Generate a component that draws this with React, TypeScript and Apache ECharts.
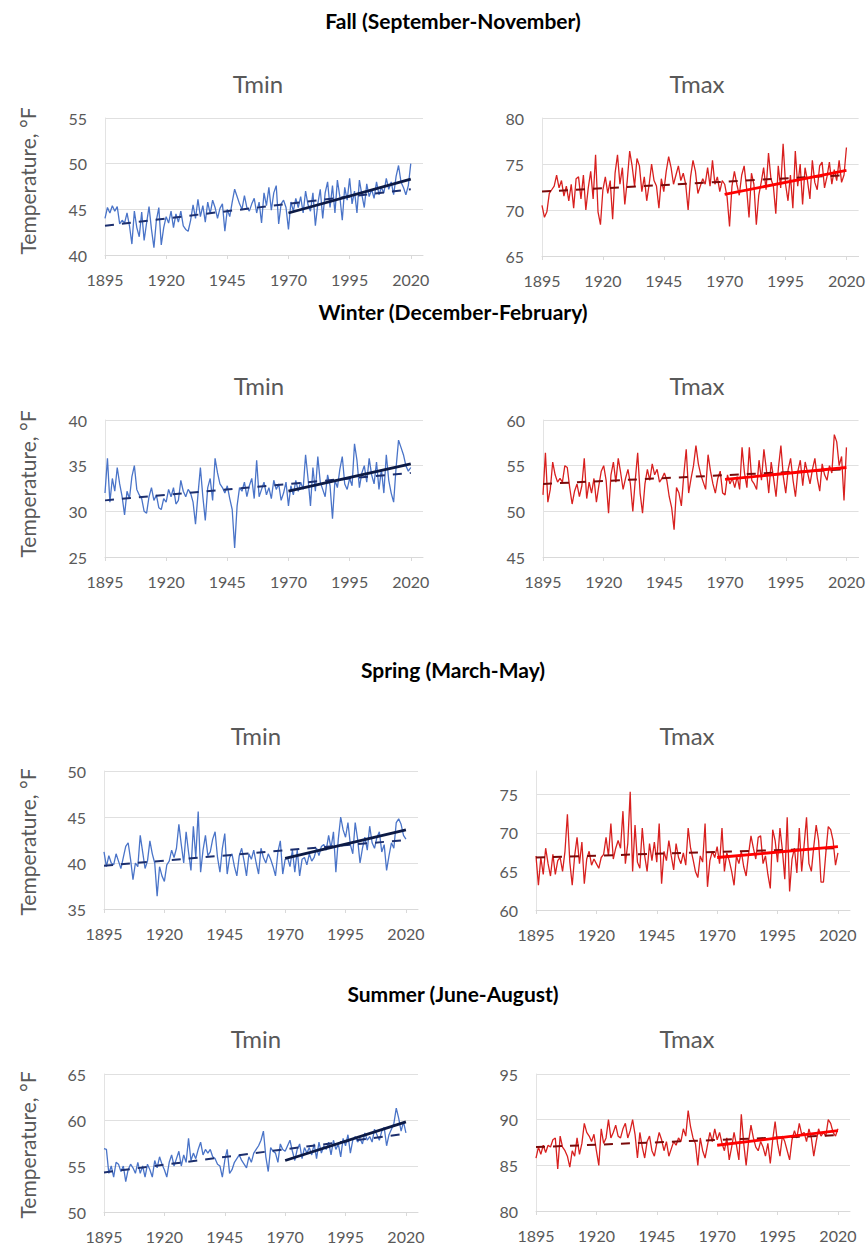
import React, { useEffect, useRef } from "react";
import * as echarts from "echarts";

const years: number[] = Array.from({ length: 126 }, (_, i) => 1895 + i);
const xTicks = [1895, 1920, 1945, 1970, 1995, 2020];

const sectionTitles = ["Fall (September-November)", "Winter (December-February)", "Spring (March-May)", "Summer (June-August)"];
const panelTitles = ["Tmin", "Tmax"];
const yAxisTitle = "Temperature, °F";

// ---- Fall ----
const fallTmin = [
  44.0, 45.2, 44.6, 45.4, 44.8, 45.3, 43.4, 43.8, 43.5, 44.6,
  43.2, 41.2, 44.8, 43.0, 42.0, 44.7, 41.6, 43.5, 45.3, 42.8,
  40.8, 43.8, 45.2, 41.1, 43.0, 44.2, 43.5, 44.8, 43.0, 44.5,
  43.6, 44.8, 43.2, 42.8, 42.6, 43.8, 45.5, 44.0, 46.1, 44.2,
  45.4, 43.6, 45.8, 44.5, 46.0, 45.2, 44.0, 45.1, 45.6, 42.6,
  45.0, 44.2, 45.8, 47.2, 46.4, 45.6, 45.0, 46.5, 45.2, 44.8,
  45.6, 46.2, 44.6, 45.8, 43.5, 46.8, 45.4, 47.4, 44.9, 46.8,
  47.6, 43.4, 45.6, 46.0, 45.2, 42.8, 45.8, 44.8, 46.2, 45.2,
  46.4, 44.6, 47.0, 45.5, 44.8, 46.8, 43.2, 45.6, 47.2, 44.0,
  46.8, 48.0, 45.2, 47.6, 44.6, 48.2, 46.4, 43.8, 47.4, 46.0,
  48.4, 45.6, 47.0, 44.6, 48.2, 46.6, 45.2, 47.8, 46.4, 47.2,
  46.2, 48.0, 46.6, 47.4, 46.8, 48.4, 47.2, 48.0, 46.6, 48.6,
  49.8, 48.0, 47.4, 46.6, 47.6, 50.0,
];
const fallTmax = [
  70.5, 69.2, 69.8, 71.8, 72.2, 72.6, 73.8, 72.4, 73.2, 71.5,
  72.6, 71.0, 72.8, 70.2, 73.4, 73.6, 71.2, 73.8, 70.0, 72.4,
  74.2, 71.2, 76.0, 69.8, 68.4, 72.2, 73.6, 71.8, 73.2, 69.0,
  74.0, 76.0, 72.8, 74.6, 70.6, 73.2, 76.4, 74.8, 72.6, 75.6,
  74.8, 72.0, 73.6, 71.0, 72.8, 75.0, 73.2, 72.6, 70.2, 73.4,
  72.0, 74.2, 75.8, 74.6, 72.8, 73.8, 74.8, 73.2, 74.0, 72.8,
  70.0, 73.6, 75.4, 74.2, 71.8, 72.6, 73.4, 72.8, 74.6, 72.6,
  75.4, 72.8, 73.6, 72.0, 73.2, 72.8, 71.4, 68.2, 72.6, 74.2,
  72.8, 71.6, 73.8, 74.8, 72.4, 69.2, 74.0, 72.8, 68.4, 71.6,
  73.0, 74.6, 72.2, 76.2, 73.4, 72.6, 69.6, 74.8, 72.4, 77.2,
  72.8, 71.0, 73.8, 70.2, 76.4, 72.6, 75.0, 70.6, 74.6, 73.2,
  71.2, 75.4, 73.0, 72.2, 74.8, 75.2, 72.4, 73.6, 75.2, 72.8,
  74.4, 73.2, 75.4, 73.0, 73.8, 76.8,
];
// ---- Winter ----
const winterTmin = [
  32.0, 35.8, 31.0, 33.6, 32.2, 34.8, 33.0, 31.6, 29.6, 32.2,
  31.4, 33.8, 35.0, 32.4, 31.8, 31.4, 30.0, 29.8, 31.6, 32.6,
  31.2, 31.8, 30.4, 30.2, 31.4, 31.0, 32.4, 31.6, 32.6, 30.8,
  31.2, 33.4, 32.2, 31.6, 32.4, 32.0, 31.0, 28.6, 31.8, 34.8,
  31.6, 29.0, 32.6, 33.6, 31.2, 35.8, 34.2, 33.0, 32.6, 32.0,
  32.8, 31.4, 30.2, 26.0, 30.6, 32.6, 32.2, 33.2, 31.6, 32.8,
  33.6, 31.4, 35.6, 31.6, 32.4, 33.2, 31.8, 32.6, 31.4, 33.4,
  32.4, 33.0, 31.2, 32.0, 33.2, 30.6, 32.8, 31.8, 33.4, 32.2,
  33.2, 32.4, 36.2, 33.6, 30.6, 34.8, 32.2, 36.0, 33.2, 32.4,
  31.6, 34.0, 32.8, 29.2, 33.4, 32.6, 34.6, 36.0, 33.0, 32.4,
  33.6, 32.8, 37.4, 35.6, 32.6, 34.2, 35.0, 33.2, 35.8, 34.0,
  33.0, 35.4, 32.4, 34.6, 32.0, 36.2, 33.4, 32.0, 31.0, 34.8,
  37.8, 37.0, 36.2, 35.0, 34.4, 34.8,
];
const winterTmax = [
  51.8, 56.4, 51.0, 52.4, 55.4, 54.0, 53.2, 53.6, 53.2, 55.0,
  54.8, 52.6, 50.8, 52.2, 53.0, 51.6, 52.8, 55.8, 51.4, 53.2,
  52.0, 53.6, 51.0, 52.8, 54.4, 55.0, 53.4, 49.8, 54.0, 55.4,
  53.2, 55.8, 54.2, 52.4, 53.6, 54.6, 53.0, 50.0, 53.4, 56.4,
  52.0, 49.8, 53.0, 54.6, 53.4, 55.2, 54.0, 54.6, 53.2, 53.6,
  54.2, 53.4, 51.6, 50.4, 48.0, 52.6, 52.0, 50.6, 54.0, 56.8,
  52.0, 53.6, 55.0, 57.2, 55.2, 54.0, 53.2, 52.4, 56.2, 54.4,
  53.0, 52.0, 53.6, 54.4, 52.0, 51.8, 54.0, 53.0, 53.6, 52.6,
  53.8, 52.4, 57.0, 54.2, 52.6, 57.0, 53.4, 53.0, 52.4, 55.6,
  53.4, 56.8, 54.6, 52.0, 55.4, 53.6, 51.6, 54.8, 57.2, 53.8,
  52.0, 54.6, 55.8, 53.4, 51.6, 54.4, 55.6, 52.8, 55.4, 54.2,
  53.0, 54.6, 55.8, 53.6, 52.2, 55.2, 54.0, 53.4, 55.0, 54.2,
  58.4, 57.6, 55.0, 56.0, 51.2, 57.0,
];
// ---- Spring ----
const springTmin = [
  41.2, 39.6, 40.8, 40.0, 39.8, 41.0, 40.2, 39.4, 40.6, 41.8,
  42.2, 40.4, 38.2, 40.0, 39.6, 43.0, 41.2, 39.4, 40.2, 42.4,
  41.0, 40.0, 36.4, 39.6, 38.6, 38.0, 39.8, 40.2, 41.4, 40.6,
  41.6, 44.2, 42.0, 40.0, 43.4, 41.2, 39.2, 44.0, 40.6, 45.6,
  39.0, 41.4, 43.0, 40.8, 41.2, 42.6, 43.4, 40.6, 39.0, 41.6,
  43.2, 38.8, 40.6, 41.0, 39.6, 38.6, 40.8, 41.6, 40.2, 38.6,
  41.0, 40.4, 41.4, 40.0, 38.8, 41.6, 40.6, 40.0, 41.0, 40.4,
  39.6, 38.6, 41.2, 42.4, 38.8, 40.4, 40.6, 39.6, 41.4, 39.0,
  41.4, 38.6, 40.4, 40.6, 39.8, 41.0, 40.2, 40.6, 41.6, 40.8,
  41.8, 42.0, 41.4, 43.0, 41.6, 43.4, 39.0, 42.6, 45.0, 43.6,
  42.8, 44.4, 42.0, 41.0, 44.4, 42.6, 40.0, 41.6, 42.8, 41.4,
  44.0, 42.2, 41.6, 42.8, 43.4, 41.2, 42.0, 39.2, 40.8, 42.2,
  41.6, 44.4, 44.8, 44.2, 43.0, 42.6,
];
const springTmax = [
  67.0, 63.2, 66.8, 64.6, 68.0, 66.0, 64.4, 67.2, 64.6, 66.4,
  66.8, 65.0, 67.6, 72.4, 66.2, 63.2, 67.0, 69.4, 66.0, 68.8,
  63.4, 66.6, 67.6, 65.8, 66.6, 66.0, 65.4, 66.8, 67.2, 69.4,
  67.0, 71.2, 66.6, 68.0, 69.0, 68.0, 72.8, 66.0, 68.6, 75.3,
  65.0, 71.0, 66.2, 65.4, 70.6, 67.0, 65.0, 68.6, 66.4, 68.8,
  66.2, 71.2, 63.4, 67.6, 66.4, 69.0, 67.0, 65.2, 68.6, 66.8,
  66.0, 67.4, 65.8, 70.6, 68.0, 66.6, 65.0, 64.2, 67.0, 66.2,
  71.2, 63.0, 66.4, 67.6, 66.8, 68.2, 66.0, 70.6, 65.0, 67.4,
  66.4, 65.0, 63.2, 67.0, 66.0, 67.6, 65.6, 64.4, 67.2, 69.6,
  68.0, 66.6, 69.4, 69.6, 66.0, 67.0, 64.6, 62.8, 70.4, 69.0,
  66.2, 70.6, 67.8, 64.0, 72.0, 62.4, 66.6, 68.0, 64.8, 70.6,
  65.0, 68.4, 72.0, 66.0, 65.0, 68.2, 71.0, 69.0, 63.6, 63.6,
  67.4, 70.8, 70.4, 69.0, 65.8, 67.4,
];
// ---- Summer ----
const summerTmin = [
  56.9, 56.8, 54.2, 55.0, 53.8, 55.4, 55.2, 54.4, 55.0, 53.3,
  54.6, 55.2, 54.8, 54.2, 55.4, 54.2, 55.0, 53.8, 55.2, 54.6,
  53.8, 55.6, 54.8, 56.0, 55.2, 54.6, 53.8, 55.4, 56.2, 55.0,
  55.8, 56.6, 55.0, 56.2, 55.4, 58.0, 55.6, 56.4, 55.8, 56.8,
  57.6, 56.2, 56.8, 56.4, 56.8, 56.0, 55.8, 55.2, 55.0, 53.8,
  55.6, 56.8, 54.2, 54.6, 55.4, 55.8, 56.2, 55.6, 55.2, 54.8,
  56.0, 55.4, 56.4, 56.8, 57.2, 57.8, 58.8, 56.0, 54.4, 57.0,
  56.6, 56.4, 55.4, 57.4, 56.8, 56.6, 57.2, 57.8, 56.6, 55.6,
  56.8, 57.4, 55.8, 57.0, 56.4, 57.0, 56.2, 57.4, 55.8, 57.6,
  56.4, 57.2, 56.8, 57.6, 56.2, 57.8, 56.8, 57.4, 56.0, 58.0,
  57.2, 58.4, 56.4, 57.8, 58.2, 57.6, 58.0, 57.4, 58.6, 57.8,
  58.2, 57.6, 59.0, 58.4, 57.8, 58.8, 59.2, 57.2, 58.4, 59.0,
  59.6, 61.3, 60.2, 58.8, 59.8, 58.6,
];
const summerTmax = [
  85.8, 87.0, 86.2, 87.2, 86.4, 87.2, 87.0, 87.8, 88.0, 84.6,
  88.2, 87.0, 86.6, 86.0, 84.8, 86.6, 86.0, 88.0, 86.2, 87.4,
  89.6, 88.6, 88.2, 87.6, 88.4, 86.6, 85.0, 89.0, 87.4, 88.0,
  90.0, 88.0, 88.6, 89.4, 88.2, 88.0, 89.0, 89.6, 88.0, 88.8,
  90.0, 88.4, 85.8, 88.6, 87.0, 85.8, 87.6, 88.2, 86.6, 86.0,
  87.4, 88.6, 87.8, 86.6, 87.6, 86.0, 86.8, 87.6, 87.2, 88.0,
  87.6, 89.0, 88.2, 91.0, 89.2, 88.0, 87.4, 85.0, 88.0, 86.6,
  85.8, 87.2, 88.6, 87.6, 89.0, 87.8, 88.6, 87.4, 86.6, 88.0,
  85.6, 87.0, 88.6, 87.2, 85.6, 90.6, 87.4, 85.0, 87.6, 89.4,
  88.0, 87.0, 86.6, 87.6, 87.0, 86.0, 87.4, 85.2, 87.8, 89.8,
  87.4, 86.0, 88.2, 87.6, 86.6, 85.6, 87.8, 88.8, 88.0, 89.6,
  88.4, 88.6, 87.6, 89.0, 88.0, 86.0, 87.6, 89.0, 88.2, 88.6,
  88.2, 90.0, 89.6, 88.6, 88.2, 89.0,
];

// Trend lines: [value at start year, value at 2020]
const trendAllYears = [1895, 2020];
const trendRecentYears = [1970, 2020];
const fallTminTrendAll = [43.2, 47.2];
const fallTminTrend1970 = [44.6, 48.3];
const fallTmaxTrendAll = [72.0, 73.8];
const fallTmaxTrend1970 = [71.7, 74.3];
const winterTminTrendAll = [31.2, 34.2];
const winterTminTrend1970 = [32.2, 35.2];
const winterTmaxTrendAll = [53.0, 54.6];
const winterTmaxTrend1970 = [53.5, 54.8];
const springTminTrendAll = [39.7, 42.5];
const springTminTrend1970 = [40.5, 43.6];
const springTmaxTrendAll = [66.8, 68.0];
const springTmaxTrend1970 = [66.8, 68.2];
const summerTminTrendAll = [54.3, 58.5];
const summerTminTrend1970 = [55.6, 59.8];
const summerTmaxTrendAll = [87.0, 88.3];
const summerTmaxTrend1970 = [87.2, 88.8];

// Y axis ranges and tick labels
const fallTminY = { min: 40, max: 55, ticks: [40, 45, 50, 55] };
const fallTmaxY = { min: 65, max: 80, ticks: [65, 70, 75, 80] };
const winterTminY = { min: 25, max: 40, ticks: [25, 30, 35, 40] };
const winterTmaxY = { min: 45, max: 60, ticks: [45, 50, 55, 60] };
const springTminY = { min: 35, max: 50, ticks: [35, 40, 45, 50] };
const springTmaxY = { min: 60, max: 78, ticks: [60, 65, 70, 75] };
const summerTminY = { min: 50, max: 65, ticks: [50, 55, 60, 65] };
const summerTmaxY = { min: 80, max: 95, ticks: [80, 85, 90, 95] };

const FONT = "Lato, 'Open Sans', sans-serif";
const GRAY = "#595959";

export default function App() {
  const ref = useRef<HTMLDivElement>(null);
  useEffect(() => {
    document.body.style.margin = "0";
    const chart = echarts.init(ref.current!, null, { renderer: "svg" });

    const panels = [
      { data: fallTmin, all: fallTminTrendAll, rec: fallTminTrend1970, y: fallTminY, kind: 0, g: { left: 105, top: 118, width: 318, height: 137 }, t: [258, 83] },
      { data: fallTmax, all: fallTmaxTrendAll, rec: fallTmaxTrend1970, y: fallTmaxY, kind: 1, g: { left: 542, top: 118, width: 317, height: 138 }, t: [697, 83] },
      { data: winterTmin, all: winterTminTrendAll, rec: winterTminTrend1970, y: winterTminY, kind: 0, g: { left: 105, top: 420, width: 318, height: 137 }, t: [259, 385] },
      { data: winterTmax, all: winterTmaxTrendAll, rec: winterTmaxTrend1970, y: winterTmaxY, kind: 1, g: { left: 543, top: 420, width: 316, height: 137 }, t: [697, 385] },
      { data: springTmin, all: springTminTrendAll, rec: springTminTrend1970, y: springTminY, kind: 0, g: { left: 104, top: 771, width: 314, height: 138 }, t: [256, 735] },
      { data: springTmax, all: springTmaxTrendAll, rec: springTmaxTrend1970, y: springTmaxY, kind: 1, g: { left: 536, top: 771, width: 314, height: 139 }, t: [687, 735] },
      { data: summerTmin, all: summerTminTrendAll, rec: summerTminTrend1970, y: summerTminY, kind: 0, g: { left: 104, top: 1074, width: 314, height: 138 }, t: [256, 1038] },
      { data: summerTmax, all: summerTmaxTrendAll, rec: summerTmaxTrend1970, y: summerTmaxY, kind: 1, g: { left: 536, top: 1074, width: 314, height: 137 }, t: [687, 1038] },
    ];

    const colors = [
      { line: "#4a74c8", dash: "#1c2f6e", trend: "#0c1a45" },
      { line: "#d8201f", dash: "#7a0a0a", trend: "#ff0000" },
    ];

    const grid: any[] = [];
    const xAxis: any[] = [];
    const yAxis: any[] = [];
    const series: any[] = [];
    const graphic: any[] = [];

    panels.forEach((p, i) => {
      grid.push({ ...p.g });
      xAxis.push({
        type: "value",
        gridIndex: i,
        min: 1895,
        max: 2025,
        axisLine: { show: true, lineStyle: { color: "#d9d9d9", width: 1 } },
        axisTick: { show: true, length: 4, customValues: xTicks, lineStyle: { color: "#d9d9d9" } },
        axisLabel: {
          customValues: xTicks,
          formatter: (v: number) => String(v),
          color: GRAY,
          fontSize: 16,
          fontFamily: FONT,
          margin: 16,
        },
        splitLine: { show: false },
      });
      yAxis.push({
        type: "value",
        gridIndex: i,
        min: p.y.min,
        max: p.y.max,
        axisLine: { show: true, lineStyle: { color: "#e3e3e3", width: 1 } },
        axisTick: { show: false, customValues: p.y.ticks },
        axisLabel: { customValues: p.y.ticks, color: GRAY, fontSize: 16, fontFamily: FONT, margin: 18 },
        splitLine: { show: true, lineStyle: { color: "#e0e0e0", width: 1 } },
      });
      const c = colors[p.kind];
      series.push({
        type: "line",
        xAxisIndex: i,
        yAxisIndex: i,
        data: years.map((yr, k) => [yr, p.data[k]]),
        symbol: "none",
        lineStyle: { color: c.line, width: 1.3 },
        z: 2,
      });
      series.push({
        type: "line",
        xAxisIndex: i,
        yAxisIndex: i,
        data: trendAllYears.map((yr, k) => [yr, p.all[k]]),
        symbol: "none",
        lineStyle: { color: c.dash, width: 2, type: [9, 8] },
        z: 3,
      });
      series.push({
        type: "line",
        xAxisIndex: i,
        yAxisIndex: i,
        data: trendRecentYears.map((yr, k) => [yr, p.rec[k]]),
        symbol: "none",
        lineStyle: { color: c.trend, width: 2.8 },
        z: 4,
      });
      graphic.push({
        type: "text",
        x: p.t[0],
        y: p.t[1],
        style: { text: panelTitles[p.kind], fill: GRAY, font: `24px ${FONT}`, textAlign: "center", textVerticalAlign: "middle" },
      });
    });

    const sectionY = [20, 311, 669, 993];
    sectionTitles.forEach((s, k) => {
      graphic.push({
        type: "text",
        x: 453,
        y: sectionY[k],
        style: { text: s, fill: "#000000", font: `bold 21px ${FONT}`, textAlign: "center", textVerticalAlign: "middle" },
      });
    });

    const yLabelCenters = [181, 484, 842, 1145];
    yLabelCenters.forEach((cy) => {
      graphic.push({
        type: "text",
        x: 27,
        y: cy,
        rotation: Math.PI / 2,
        style: { text: yAxisTitle, fill: GRAY, font: `21px ${FONT}`, textAlign: "center", textVerticalAlign: "middle" },
      });
    });

    chart.setOption({
      animation: false,
      backgroundColor: "#ffffff",
      grid,
      xAxis,
      yAxis,
      series,
      graphic,
    });
    return () => chart.dispose();
  }, []);
  return <div ref={ref} style={{ width: 868, height: 1247 }} />;
}
